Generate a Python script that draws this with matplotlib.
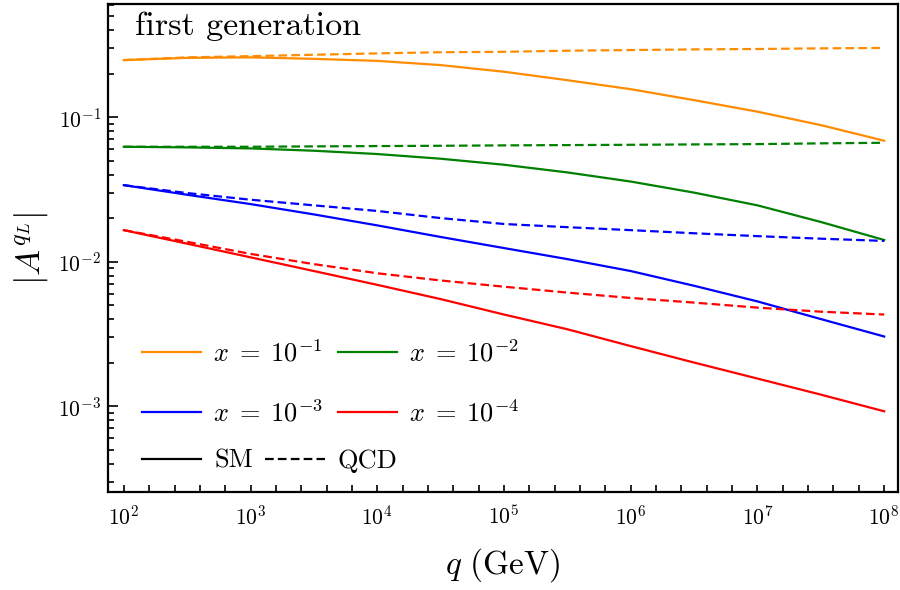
import numpy as np
import matplotlib
matplotlib.use("Agg")
import matplotlib.pyplot as plt
from matplotlib.lines import Line2D
from matplotlib.ticker import FixedLocator, LogLocator, NullFormatter

plt.rcParams['font.family'] = 'serif'
plt.rcParams['font.serif'] = ['cmr10', 'DejaVu Serif']
plt.rcParams['mathtext.fontset'] = 'cm'
plt.rcParams['axes.formatter.use_mathtext'] = True
plt.rcParams['axes.unicode_minus'] = False

# energy scale q (GeV), half-decade steps
q = [1e2, 10**2.5, 1e3, 10**3.5, 1e4, 10**4.5, 1e5, 10**5.5, 1e6,
     10**6.5, 1e7, 10**7.5, 1e8]

# |A^{q_L}|, SM (solid) and QCD-only (dashed)
sm_x1 = [0.248, 0.257, 0.259, 0.253, 0.245, 0.229, 0.206, 0.180, 0.156,
         0.131, 0.109, 0.088, 0.0686]
qcd_x1 = [0.248, 0.259, 0.264, 0.270, 0.276, 0.281, 0.283, 0.288, 0.291,
          0.294, 0.296, 0.299, 0.301]
sm_x2 = [0.0623, 0.0617, 0.0607, 0.0585, 0.0555, 0.0515, 0.0468, 0.0414,
         0.0358, 0.0300, 0.0245, 0.0188, 0.0141]
qcd_x2 = [0.0623, 0.0623, 0.0623, 0.0627, 0.0630, 0.0633, 0.0637, 0.0640,
          0.0643, 0.0647, 0.0650, 0.0658, 0.0664]
sm_x3 = [0.0338, 0.0290, 0.0250, 0.0212, 0.0178, 0.0148, 0.0124, 0.0104,
         0.0086, 0.0068, 0.0053, 0.0040, 0.00303]
qcd_x3 = [0.0338, 0.0298, 0.0268, 0.0245, 0.0224, 0.0200, 0.0182, 0.0173,
          0.0165, 0.0157, 0.0150, 0.0144, 0.0139]
sm_x4 = [0.0165, 0.0133, 0.0107, 0.0086, 0.0069, 0.0055, 0.0043, 0.0034,
         0.0026, 0.0020, 0.00155, 0.00120, 0.00092]
qcd_x4 = [0.0165, 0.0137, 0.0113, 0.0096, 0.0083, 0.0074, 0.0067, 0.0061,
          0.0056, 0.0052, 0.0048, 0.0045, 0.0043]

labels = [r'$x\;=\;10^{-1}$', r'$x\;=\;10^{-2}$',
          r'$x\;=\;10^{-3}$', r'$x\;=\;10^{-4}$']
colors = ['darkorange', 'green', 'blue', 'red']
sm_all = [sm_x1, sm_x2, sm_x3, sm_x4]
qcd_all = [qcd_x1, qcd_x2, qcd_x3, qcd_x4]

fig = plt.figure(figsize=(9, 5.9), dpi=100)
ax = fig.add_axes([0.12, 0.166, 0.878, 0.827])

dash = (0, (3.9, 1.9))
for sm, qcd, c in zip(sm_all, qcd_all, colors):
    ax.plot(q, sm, color=c, lw=1.6)
    ax.plot(q, qcd, color=c, lw=1.6, linestyle=dash)

ax.set_xscale('log')
ax.set_yscale('log')
ax.set_xlim(75, 1.29e8)
ax.set_ylim(2.54e-4, 0.605)

# x ticks every 0.2 decades, labels on decades
ax.xaxis.set_major_locator(FixedLocator([10.0 ** k for k in range(2, 9)]))
ax.xaxis.set_minor_locator(FixedLocator(10 ** np.arange(1.8, 8.2, 0.2)))
ax.xaxis.set_minor_formatter(NullFormatter())
ax.yaxis.set_major_locator(LogLocator(base=10, numticks=10))
ax.yaxis.set_minor_locator(LogLocator(base=10, subs=np.arange(2, 10), numticks=10))
ax.yaxis.set_minor_formatter(NullFormatter())

ax.tick_params(axis='both', which='both', direction='in', width=1.2, labelsize=15.5)
ax.tick_params(axis='x', which='both', length=5, pad=9)
ax.tick_params(axis='y', which='major', length=7, pad=5)
ax.tick_params(axis='y', which='minor', length=4)
for s in ax.spines.values():
    s.set_linewidth(1.6)

ax.set_xlabel(r'$q\ (\mathrm{GeV})$', fontsize=24, labelpad=13)
ax.set_ylabel(r'$|A^{q_L}|$', fontsize=25, labelpad=6)

ax.text(0.034, 0.985, 'first generation', transform=ax.transAxes,
        fontsize=24.5, va='top', ha='left')

handles = [Line2D([], [], color=c, lw=1.6) for c in colors]
order = [0, 2, 1, 3]
leg1 = ax.legend([handles[i] for i in order], [labels[i] for i in order],
                 ncol=2, loc='upper left', bbox_to_anchor=(0.043, 0.312),
                 frameon=False, fontsize=19, borderpad=0, borderaxespad=0,
                 handlelength=2.25, handletextpad=0.45, columnspacing=0.55,
                 labelspacing=1.25)
ax.add_artist(leg1)

style_handles = [Line2D([], [], color='black', lw=1.6),
                 Line2D([], [], color='black', lw=1.6, linestyle=dash)]
ax.legend(style_handles, ['SM', 'QCD'], ncol=2, loc='upper left',
          bbox_to_anchor=(0.043, 0.088), frameon=False, fontsize=19,
          borderpad=0, borderaxespad=0, handlelength=2.25,
          handletextpad=0.5, columnspacing=0.45)

fig.savefig('out.png', dpi=100)
